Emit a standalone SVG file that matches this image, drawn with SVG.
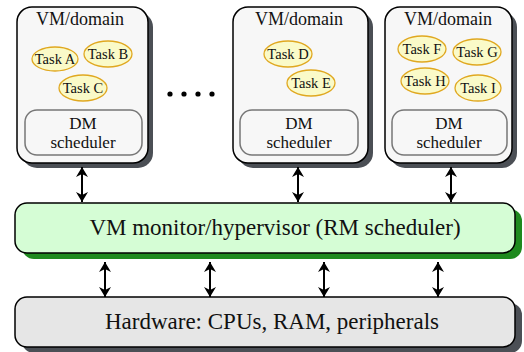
<svg xmlns="http://www.w3.org/2000/svg" width="524" height="352" viewBox="0 0 524 352">
<defs>
<marker id="ah" viewBox="0 0 10 12" refX="10" refY="6" markerWidth="10" markerHeight="12" markerUnits="userSpaceOnUse" orient="auto-start-reverse">
<path d="M0,0 L10,6 L0,12 L3,6 Z" fill="#000"/>
</marker>
</defs>
<style>
text{font-family:"Liberation Serif","Times New Roman",serif;fill:#111;text-anchor:middle}
.vm{fill:#f7f7f7;stroke:#000;stroke-width:1.5}
.sh{fill:#4b4f55}
.task{fill:#fafac8;stroke:#e0a820;stroke-width:1.3}
.tt{font-size:14.5px}
.dm{fill:#f7f7f7;stroke:#777;stroke-width:1.5}
.t15{font-size:17px}
.t18{font-size:18px}
.conn{stroke:#000;stroke-width:2;fill:none;marker-start:url(#ah);marker-end:url(#ah)}
</style>
<g id="vm1">
<rect class="sh" x="22" y="12" width="131" height="156" rx="15"/>
<rect class="vm" x="17" y="7" width="131" height="156" rx="15"/>
<text class="t18" x="80" y="25">VM/domain</text>
<ellipse class="task" cx="55" cy="59" rx="23" ry="12"/>
<text class="tt" x="55" y="64">Task A</text>
<ellipse class="task" cx="108" cy="54" rx="24" ry="13"/>
<text class="tt" x="108" y="59">Task B</text>
<ellipse class="task" cx="83" cy="88" rx="24" ry="13"/>
<text class="tt" x="83" y="93">Task C</text>
<rect class="dm" x="25" y="110" width="117" height="45" rx="12"/>
<text class="t15" x="83" y="129">DM</text>
<text class="t15" x="83" y="148">scheduler</text>
</g>
<g id="dots">
<circle cx="170" cy="94" r="2.6" fill="#000"/>
<circle cx="184" cy="94" r="2.6" fill="#000"/>
<circle cx="198" cy="94" r="2.6" fill="#000"/>
<circle cx="212" cy="94" r="2.6" fill="#000"/>
</g>
<g id="vm2">
<rect class="sh" x="238" y="12" width="135" height="156" rx="15"/>
<rect class="vm" x="233" y="7" width="135" height="156" rx="15"/>
<text class="t18" x="299" y="25">VM/domain</text>
<ellipse class="task" cx="288" cy="54" rx="24" ry="13"/>
<text class="tt" x="288" y="59">Task D</text>
<ellipse class="task" cx="311" cy="83" rx="24" ry="13"/>
<text class="tt" x="311" y="88">Task E</text>
<rect class="dm" x="240" y="110" width="118" height="45" rx="12"/>
<text class="t15" x="299" y="129">DM</text>
<text class="t15" x="299" y="148">scheduler</text>
</g>
<g id="vm3">
<rect class="sh" x="390" y="12" width="127" height="156" rx="15"/>
<rect class="vm" x="385" y="7" width="127" height="156" rx="15"/>
<text class="t18" x="448" y="25">VM/domain</text>
<ellipse class="task" cx="422" cy="49" rx="24" ry="13"/>
<text class="tt" x="422" y="54">Task F</text>
<ellipse class="task" cx="477" cy="52" rx="24" ry="13"/>
<text class="tt" x="477" y="57">Task G</text>
<ellipse class="task" cx="425" cy="81" rx="24" ry="13"/>
<text class="tt" x="425" y="86">Task H</text>
<ellipse class="task" cx="478" cy="88" rx="23" ry="13"/>
<text class="tt" x="478" y="93">Task I</text>
<rect class="dm" x="392" y="110" width="115" height="45" rx="12"/>
<text class="t15" x="449" y="129">DM</text>
<text class="t15" x="449" y="148">scheduler</text>
</g>
<g id="hypervisor">
<rect x="22" y="209" width="500" height="50" rx="12" fill="#1e8a1e"/>
<rect x="15" y="203" width="500" height="50" rx="12" fill="#d5fdd5" stroke="#000" stroke-width="1.5"/>
<text x="275" y="235" font-size="23">VM monitor/hypervisor (RM scheduler)</text>
</g>
<g id="hardware">
<rect x="22" y="303" width="500" height="50" rx="12" fill="#4b4f55"/>
<rect x="15" y="297" width="500" height="50" rx="12" fill="#e6e6e6" stroke="#000" stroke-width="1.5"/>
<text x="272" y="329" font-size="23">Hardware: CPUs, RAM, peripherals</text>
</g>
<g id="connectors">
<line class="conn" x1="82" y1="167" x2="82" y2="202"/>
<line class="conn" x1="298" y1="167" x2="298" y2="202"/>
<line class="conn" x1="451" y1="167" x2="451" y2="202"/>
<line class="conn" x1="105" y1="262" x2="105" y2="297"/>
<line class="conn" x1="210" y1="262" x2="210" y2="297"/>
<line class="conn" x1="324" y1="262" x2="324" y2="297"/>
<line class="conn" x1="438" y1="262" x2="438" y2="297"/>
</g>
</svg>
